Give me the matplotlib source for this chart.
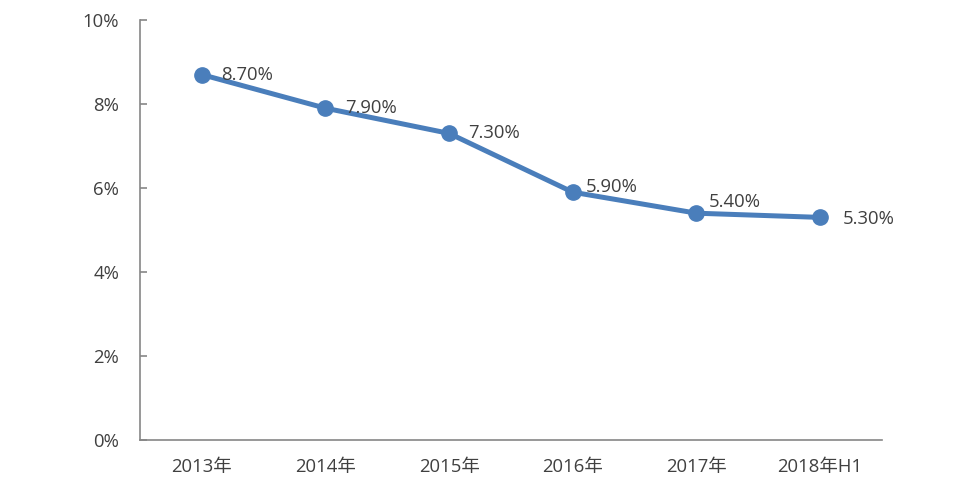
import matplotlib
matplotlib.use("Agg")
import matplotlib.pyplot as plt
from matplotlib.ticker import FuncFormatter

categories = ["2013年", "2014年", "2015年", "2016年", "2017年", "2018年H1"]
values = [8.70, 7.90, 7.30, 5.90, 5.40, 5.30]
labels = ["8.70%", "7.90%", "7.30%", "5.90%", "5.40%", "5.30%"]
yticks = [0, 2, 4, 6, 8, 10]

# label offsets (points) - style only
label_offsets = [(14, 0), (14, 0), (14, 0), (9, 4), (9, 8), (16, -1)]

plt.rcParams['font.family'] = ['Open Sans', 'Noto Sans CJK SC', 'DejaVu Sans']

fig = plt.figure(figsize=(9.6, 4.84), dpi=100)
ax = fig.add_axes([0.1458, 0.0909, 0.7729, 0.8678])

x = list(range(len(categories)))
color = "#4a7ebb"
ax.plot(x, values, color=color, linewidth=3.6, marker='o', markersize=11,
        solid_capstyle='round', zorder=3)

for xi, v, lab, off in zip(x, values, labels, label_offsets):
    ax.annotate(lab, (xi, v), xytext=off, textcoords='offset points',
                ha='left', va='center', fontsize=13.3, color='#404040')

ax.set_xlim(-0.5, len(categories) - 0.5)
ax.set_ylim(0, 10)
ax.set_yticks(yticks)
ax.yaxis.set_major_formatter(FuncFormatter(lambda v, p: f"{int(v)}%"))
ax.set_xticks(x)
ax.set_xticklabels(categories)

for s in ['top', 'right']:
    ax.spines[s].set_visible(False)
for s in ['left', 'bottom']:
    ax.spines[s].set_color('#868686')
    ax.spines[s].set_linewidth(1.2)

ax.tick_params(axis='y', direction='in', length=5, width=1.2, color='#868686',
               pad=15, labelsize=13.3, labelcolor='#404040')
ax.tick_params(axis='x', length=0, pad=13, labelsize=13.3, labelcolor='#404040')

fig.savefig("out.png", dpi=100)
